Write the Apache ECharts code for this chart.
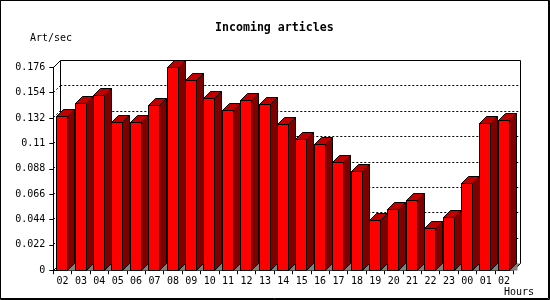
<!DOCTYPE html>
<html>
<head>
<meta charset="utf-8">
<style>html,body{margin:0;padding:0;background:#fff;overflow:hidden}#c{width:550px;height:300px}</style>
<script src="https://cdn.jsdelivr.net/npm/echarts@6/dist/echarts.min.js"></script>
</head>
<body>
<div id="c"></div>
<script>
const hours = ['02','03','04','05','06','07','08','09','10','11','12','13','14','15','16','17','18','19','20','21','22','23','00','01','02'];
const artPerSec = [0.1333,0.1446,0.1515,0.128,0.128,0.1428,0.1758,0.1645,0.1489,0.1385,0.1472,0.1437,0.1264,0.1133,0.109,0.0934,0.0856,0.0431,0.0526,0.0604,0.0362,0.0457,0.0752,0.1272,0.1298];
const yMax = 0.176, yStep = 0.022;
const yTicks = [0,0.022,0.044,0.066,0.088,0.11,0.132,0.154,0.176];

const depth = 7, barW = 11;
const FRONT = '#ff0000', SIDE = '#800000', TOP = '#c00000', FLOOR = '#808080', INK = '#000';
const mono = '"DejaVu Sans Mono"';
const snap = v => Math.floor(v) + 0.5;
const fmt = v => String(+(+v).toFixed(3));

function renderBar(params, api) {
  const c = api.coord([api.value(0), api.value(1)]);
  const base = snap(api.coord([api.value(0), 0])[1]);
  const x0 = snap(c[0] - barW / 2 - 0.3), x1 = x0 + barW, y = snap(c[1]);
  const lineStyle = { stroke: INK, lineWidth: 1 };
  const poly = (points, fill, stroke) => ({
    type: 'polygon', shape: { points },
    style: stroke ? { fill, ...lineStyle } : { fill, stroke: null }
  });
  return { type: 'group', children: [
    poly([[x1, base], [x1 + depth, base - depth], [x1 + depth + 1, base - depth], [x1 + depth + 1, base]], FLOOR, false),
    poly([[x1, y], [x1 + depth, y - depth], [x1 + depth, base - depth], [x1, base]], SIDE, true),
    poly([[x0, y], [x0 + depth, y - depth], [x1 + depth, y - depth], [x1, y]], TOP, true),
    { type: 'rect', shape: { x: x0, y, width: barW, height: base - y }, style: { fill: FRONT, ...lineStyle } }
  ]};
}

function renderWalls(params, api) {
  const n = hours.length;
  const band = api.size([1, 0])[0];
  const xl = snap(api.coord([0, 0])[0] - band / 2);
  const xr = snap(api.coord([n - 1, 0])[0] + band / 2);
  const base = snap(api.coord([0, 0])[1]);
  const top = snap(api.coord([0, yMax])[1]);
  const solid = { stroke: INK, lineWidth: 1 };
  const line = (x1, y1, x2, y2, style) => ({ type: 'line', shape: { x1, y1, x2, y2 }, style });
  const kids = [
    { type: 'polygon',
      shape: { points: [[xr - 5, base], [xr - 5 + depth, base - depth], [xr + depth, base - depth], [xr, base]] },
      style: { fill: FLOOR, stroke: null } },
    line(xr, base, xr + depth, base - depth, solid),
    line(xl + depth, top - depth, xr + depth, top - depth, solid),
    line(xl + depth, top - depth, xl + depth, base - depth, solid),
    line(xr + depth, top - depth, xr + depth, base - depth, solid)
  ];
  yTicks.forEach(t => {
    const y = snap(api.coord([0, t])[1]);
    const isEdge = t === yMax || t === 0;
    kids.push(line(xl, y, xl + depth, y - depth, isEdge ? solid : { ...solid, lineDash: [2, 2] }));
  });
  return { type: 'group', children: kids };
}

const chart = echarts.init(document.getElementById('c'), null, { renderer: 'canvas', devicePixelRatio: 1 });
chart.setOption({
  animation: false,
  backgroundColor: '#fff',
  title: {
    text: 'Incoming articles', left: 215, top: 21,
    textStyle: { fontFamily: mono, fontSize: 11.6, fontWeight: 'bold', color: INK, lineHeight: 14 },
    padding: 0
  },
  grid: [
    { left: 53.3, top: 67.25, width: 460, height: 203, containLabel: false },
    { left: 60.3, top: 60.25, width: 460, height: 203 }
  ],
  xAxis: [
    {
      type: 'category', gridIndex: 0, data: hours, boundaryGap: true,
      axisLine: { show: true, lineStyle: { color: INK, width: 1 } },
      axisTick: { show: true, alignWithLabel: false, length: 4, lineStyle: { color: INK } },
      axisLabel: { show: true, interval: 0, margin: 6, fontFamily: mono, fontSize: 10, color: INK },
      splitLine: { show: false }
    },
    { type: 'category', gridIndex: 1, data: hours, show: false }
  ],
  yAxis: [
    {
      type: 'value', gridIndex: 0, min: 0, max: yMax, interval: yStep,
      axisLine: { show: true, lineStyle: { color: INK, width: 1 } },
      axisTick: { show: true, length: 4, lineStyle: { color: INK } },
      axisLabel: { show: true, margin: 8, padding: [6, 0, 0, 0], fontFamily: mono, fontSize: 10, color: INK, formatter: fmt, showMinLabel: true, showMaxLabel: true },
      splitLine: { show: false }
    },
    {
      type: 'value', gridIndex: 1, min: 0, max: yMax, interval: yStep,
      axisLine: { show: false }, axisTick: { show: false }, axisLabel: { show: false },
      splitLine: { show: true, showMinLine: false, showMaxLine: false, lineStyle: { color: INK, width: 1, type: [2, 2] } }
    }
  ],
  series: [
    { type: 'custom', name: 'walls', xAxisIndex: 0, yAxisIndex: 0, clip: false, silent: true, renderItem: renderWalls, data: [[0, 0]], encode: { x: 0, y: 1 } },
    { type: 'custom', name: 'Art/sec', xAxisIndex: 0, yAxisIndex: 0, clip: false, renderItem: renderBar, data: artPerSec.map((v, i) => [i, v]), encode: { x: 0, y: 1 } }
  ],
  graphic: [
    { type: 'rect', silent: true, z: 10, shape: { x: 0.5, y: 0.5, width: 549, height: 299 }, style: { fill: null, stroke: INK, lineWidth: 1 } },
    { type: 'rect', silent: true, z: 10, shape: { x: 0.5, y: 0.5, width: 548, height: 298 }, style: { fill: null, stroke: INK, lineWidth: 1 } },
    { type: 'text', silent: true, x: 30, y: 33, style: { text: 'Art/sec', fontFamily: mono, fontSize: 10, fill: INK } },
    { type: 'text', silent: true, x: 504, y: 287, style: { text: 'Hours', fontFamily: mono, fontSize: 10, fill: INK } }
  ]
});
</script>
</body>
</html>
